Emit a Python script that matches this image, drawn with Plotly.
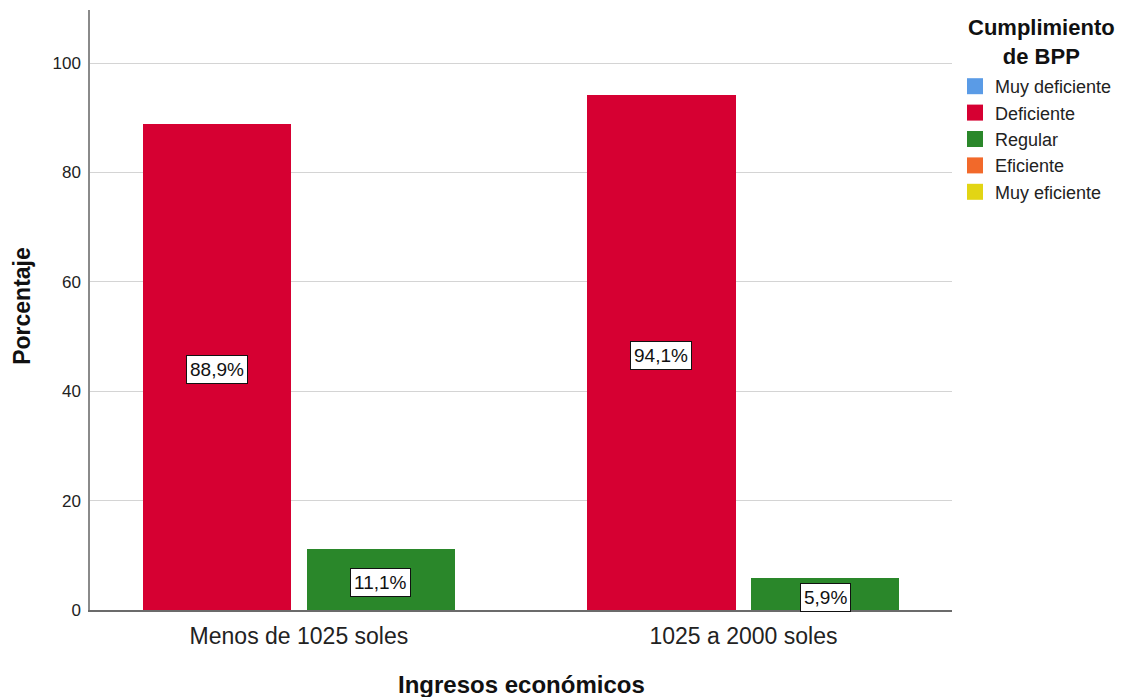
import plotly.graph_objects as go

# Percentages by income group and BPP compliance level
groups = ["Menos de 1025 soles", "1025 a 2000 soles"]
levels = ["Muy deficiente", "Deficiente", "Regular", "Eficiente", "Muy eficiente"]
level_colors = ["#5A9BE6", "#D60032", "#2A872A", "#F2692A", "#E2D514"]
muy_deficiente = [0.0, 0.0]
deficiente = [88.9, 94.1]
regular = [11.1, 5.9]
eficiente = [0.0, 0.0]
muy_eficiente = [0.0, 0.0]
series = [muy_deficiente, deficiente, regular, eficiente, muy_eficiente]

FONT = "Liberation Sans, Arial, sans-serif"

# Bars drawn for the levels that have cases; offsets place them side by side
bar_width = 0.333
bar_offsets = {"Deficiente": -0.351, "Regular": 0.017}

fig = go.Figure()
for name, color, values in zip(levels, level_colors, series):
    if name in bar_offsets:
        fig.add_trace(go.Bar(
            x=groups, y=values, name=name, width=bar_width,
            offset=bar_offsets[name], marker=dict(color=color, line=dict(width=0)),
            showlegend=False, hoverinfo="skip",
        ))
    # legend entry with a square swatch
    fig.add_trace(go.Scatter(
        x=[None], y=[None], mode="markers", name=name,
        marker=dict(symbol="square", size=17, color=color),
        showlegend=True,
    ))

# Value labels in white boxes at the middle of each bar
for name in ["Deficiente", "Regular"]:
    values = series[levels.index(name)]
    for i, (g, v) in enumerate(zip(groups, values)):
        if v <= 0:
            continue
        xpos = i + bar_offsets[name] + bar_width / 2
        fig.add_annotation(
            x=xpos, y=v / 2, xref="x", yref="y",
            text=f"{v:.1f}%".replace(".", ","), showarrow=False,
            font=dict(family=FONT, size=19, color="#111"),
            bgcolor="white", bordercolor="#111", borderwidth=1, borderpad=3,
            yshift=-3 if v > 8 else -4,
        )

# Axis titles
fig.add_annotation(
    text="<b>Porcentaje</b>", x=-68 / 862, xref="paper", xanchor="center",
    y=0.507, yref="paper", yanchor="middle", showarrow=False, textangle=-90,
    font=dict(family=FONT, size=23, color="#111"),
)
fig.add_annotation(
    text="<b>Ingresos económicos</b>", x=0.5, xref="paper",
    y=-74 / 600, yref="paper", yanchor="middle", showarrow=False,
    font=dict(family=FONT, size=24, color="#111"),
)

# Legend heading, centred over the legend entries
fig.add_annotation(
    text="<b>Cumplimiento<br>de BPP</b>", x=(1041 - 90) / 862, xref="paper",
    xanchor="center", y=1 - 3 / 600, yref="paper", yanchor="top",
    align="center", showarrow=False,
    font=dict(family=FONT, size=22, color="#111"),
)

fig.update_layout(
    width=1135, height=697,
    margin=dict(l=90, r=183, t=10, b=87),
    paper_bgcolor="white", plot_bgcolor="white",
    font=dict(family=FONT, color="#222"),
    bargap=0,
    xaxis=dict(
        type="category", range=[-0.47, 1.469],
        showline=True, linecolor="#6b6b6b", linewidth=1.5,
        showgrid=False, ticks="", tickfont=dict(size=23, color="#222"),
        zeroline=False, ticklabelstandoff=5,
    ),
    yaxis=dict(
        range=[0, 109.7], tickvals=[0, 20, 40, 60, 80, 100],
        showline=True, linecolor="#8a8a8a", linewidth=1.5,
        showgrid=True, gridcolor="#d4d4d4", gridwidth=1,
        ticks="", tickfont=dict(size=17, color="#222"), zeroline=False,
        ticklabelstandoff=4,
    ),
    legend=dict(
        font=dict(size=18, color="#222"),
        x=1.0 + 3 / 862, xanchor="left", y=1 - 58 / 600, yanchor="top",
        itemclick=False, tracegroupgap=0, bgcolor="rgba(0,0,0,0)",
    ),
)

fig.write_html("out.html")
